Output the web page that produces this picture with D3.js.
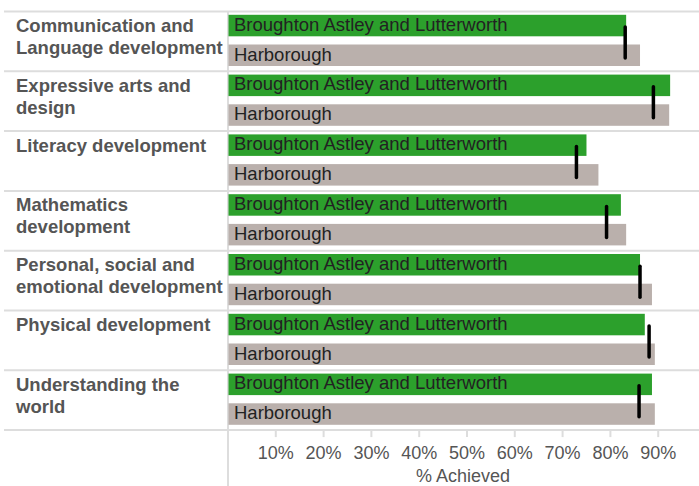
<!DOCTYPE html>
<html>
<head>
<meta charset="utf-8">
<script src="https://cdn.jsdelivr.net/npm/d3@7"></script>
<style>
  body { margin: 0; background: #fff; }
  svg text { font-family: 'Liberation Sans', Arial, sans-serif; }
  .cat-label { font-weight: bold; fill: #555; font-size: 18.5px; }
  .bar-label { fill: #222; font-size: 18.5px; }
  .tick-label { fill: #555; font-size: 18px; }
</style>
</head>
<body>
<div id="chart"></div>
<script>
const categories = [
  ['Communication and', 'Language development'],
  ['Expressive arts and', 'design'],
  ['Literacy development'],
  ['Mathematics', 'development'],
  ['Personal, social and', 'emotional development'],
  ['Physical development'],
  ['Understanding the', 'world']
]
const areaName = 'Broughton Astley and Lutterworth'
const districtName = 'Harborough'
const areaValues = [0.834, 0.926, 0.751, 0.823, 0.863, 0.873, 0.888]
const districtValues = [0.863, 0.924, 0.776, 0.834, 0.888, 0.894, 0.894]
const markerValues = [0.832, 0.891, 0.730, 0.793, 0.863, 0.882, 0.861]
const tickValues = [0.1, 0.2, 0.3, 0.4, 0.5, 0.6, 0.7, 0.8, 0.9]

const width = 699
const height = 486
const plotLeft = 228
const plotTop = 11
const rowH = 59.8

const svg = d3.select('#chart')
  .append('svg')
  .attr('width', width)
  .attr('height', height)

const x = d3.scaleLinear().domain([0, 1]).range([227.5, 705.5])
const y = d3.scaleBand()
  .domain(d3.range(categories.length))
  .range([plotTop, plotTop + rowH * categories.length])

// row separators
svg.selectAll('line.sep')
  .data(d3.range(categories.length + 1))
  .enter()
  .append('line')
  .attr('class', 'sep')
  .attr('x1', 4)
  .attr('x2', width)
  .attr('y1', (d) => plotTop + 0.5 + d * rowH)
  .attr('y2', (d) => plotTop + 0.5 + d * rowH)
  .style('stroke', '#ddd')
  .style('stroke-width', 2)

svg.append('line')
  .attr('x1', plotLeft)
  .attr('x2', plotLeft)
  .attr('y1', plotTop)
  .attr('y2', height)
  .style('stroke', '#ddd')
  .style('stroke-width', 2)

// category labels
categories.forEach((lines, i) => {
  const t = svg.append('text')
    .attr('class', 'cat-label')
    .attr('x', 16)
    .attr('y', y(i) + 21)
  lines.forEach((ln, j) => {
    t.append('tspan').attr('x', 16).attr('dy', j === 0 ? 0 : 22).text(ln)
  })
})

// bars
const barH = 21.5
svg.selectAll('rect.area')
  .data(areaValues)
  .enter()
  .append('rect')
  .attr('class', 'area')
  .attr('x', x(0) + 1)
  .attr('y', (d, i) => y(i) + 3.8)
  .attr('width', (d) => x(d) - x(0) - 1)
  .attr('height', barH)
  .style('fill', '#2ca02c')

svg.selectAll('rect.district')
  .data(districtValues)
  .enter()
  .append('rect')
  .attr('class', 'district')
  .attr('x', x(0) + 1)
  .attr('y', (d, i) => y(i) + 33.5)
  .attr('width', (d) => x(d) - x(0) - 1)
  .attr('height', barH)
  .style('fill', '#bab0ac')

svg.selectAll('text.area-label')
  .data(areaValues)
  .enter()
  .append('text')
  .attr('class', 'bar-label')
  .attr('x', 234)
  .attr('y', (d, i) => y(i) + 19.5)
  .text(areaName)

svg.selectAll('text.district-label')
  .data(districtValues)
  .enter()
  .append('text')
  .attr('class', 'bar-label')
  .attr('x', 234)
  .attr('y', (d, i) => y(i) + 49.5)
  .text(districtName)

// benchmark markers
svg.selectAll('line.marker')
  .data(markerValues)
  .enter()
  .append('line')
  .attr('class', 'marker')
  .attr('x1', (d) => x(d))
  .attr('x2', (d) => x(d))
  .attr('y1', (d, i) => y(i) + 16)
  .attr('y2', (d, i) => y(i) + 47)
  .style('stroke', '#000')
  .style('stroke-width', 3.5)
  .style('stroke-linecap', 'round')

// x axis
const axisY = plotTop + rowH * categories.length + 0.5
const axis = svg.append('g')
  .attr('transform', `translate(0, ${axisY})`)
  .call(d3.axisBottom(x).tickValues(tickValues).tickFormat(d3.format('.0%')).tickSize(7).tickPadding(9))
axis.select('.domain').remove()
axis.selectAll('.tick line').style('stroke', '#ddd').style('stroke-width', 2)
axis.selectAll('.tick text')
  .attr('class', 'tick-label')
  .attr('font-family', null)
  .attr('font-size', null)
  .attr('fill', null)

svg.append('text')
  .attr('class', 'tick-label')
  .attr('x', 463)
  .attr('y', 482)
  .attr('text-anchor', 'middle')
  .text('% Achieved')
</script>
</body>
</html>
